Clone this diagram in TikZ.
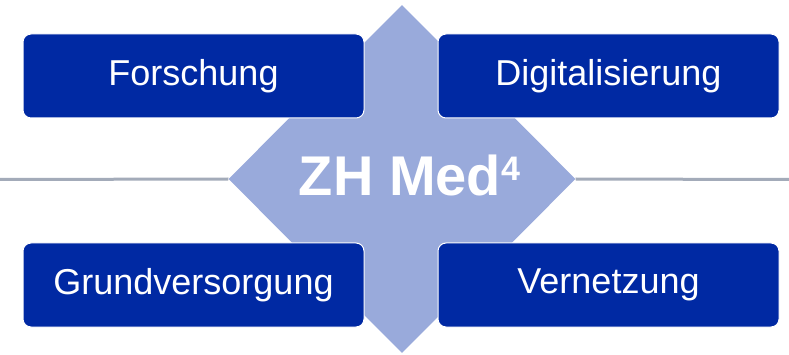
\documentclass[tikz,border=0pt]{standalone}
\usepackage{fontspec}
\setmainfont{Liberation Sans}
\usetikzlibrary{shapes.geometric}
\definecolor{boxblue}{RGB}{0,41,163}
\definecolor{crossblue}{RGB}{153,170,219}
\definecolor{linegray}{RGB}{163,171,185}

\begin{document}
\begin{tikzpicture}[x=1pt,y=-1pt,
    area/.style={draw=white, line width=1pt, fill=boxblue, rounded corners=8pt,
      minimum width=341pt, minimum height=84pt, text=white,
      font=\fontsize{36}{36}\selectfont},
    hub/.style={diamond, fill=crossblue, minimum width=347pt,
      minimum height=348pt, inner sep=0pt}]
    \useasboundingbox (0,0) rectangle (789,355);
    \coordinate (lft) at (0,179.5);
    \coordinate (rgt) at (789,179.5);
    \node[hub] (zh) at (402,179) {};
    \draw[linegray, line width=3pt] (lft) -- (zh.west) (zh.east) -- (rgt);
    \node[text=white, font=\bfseries\fontsize{56}{56}\selectfont] (title) at (409.5,175)
      {ZH Med\raisebox{15pt}{\fontsize{34}{34}\selectfont 4}};

    \node[area] (fo) at (193.5,76) {Forschung};
    \node[area] (di) at (608.5,76) {Digitalisierung};
    \node[area] (gr) at (193.5,285) {Grundversorgung};
    \node[area] (ve) at (608.5,285) {Vernetzung};
\end{tikzpicture}
\end{document}
